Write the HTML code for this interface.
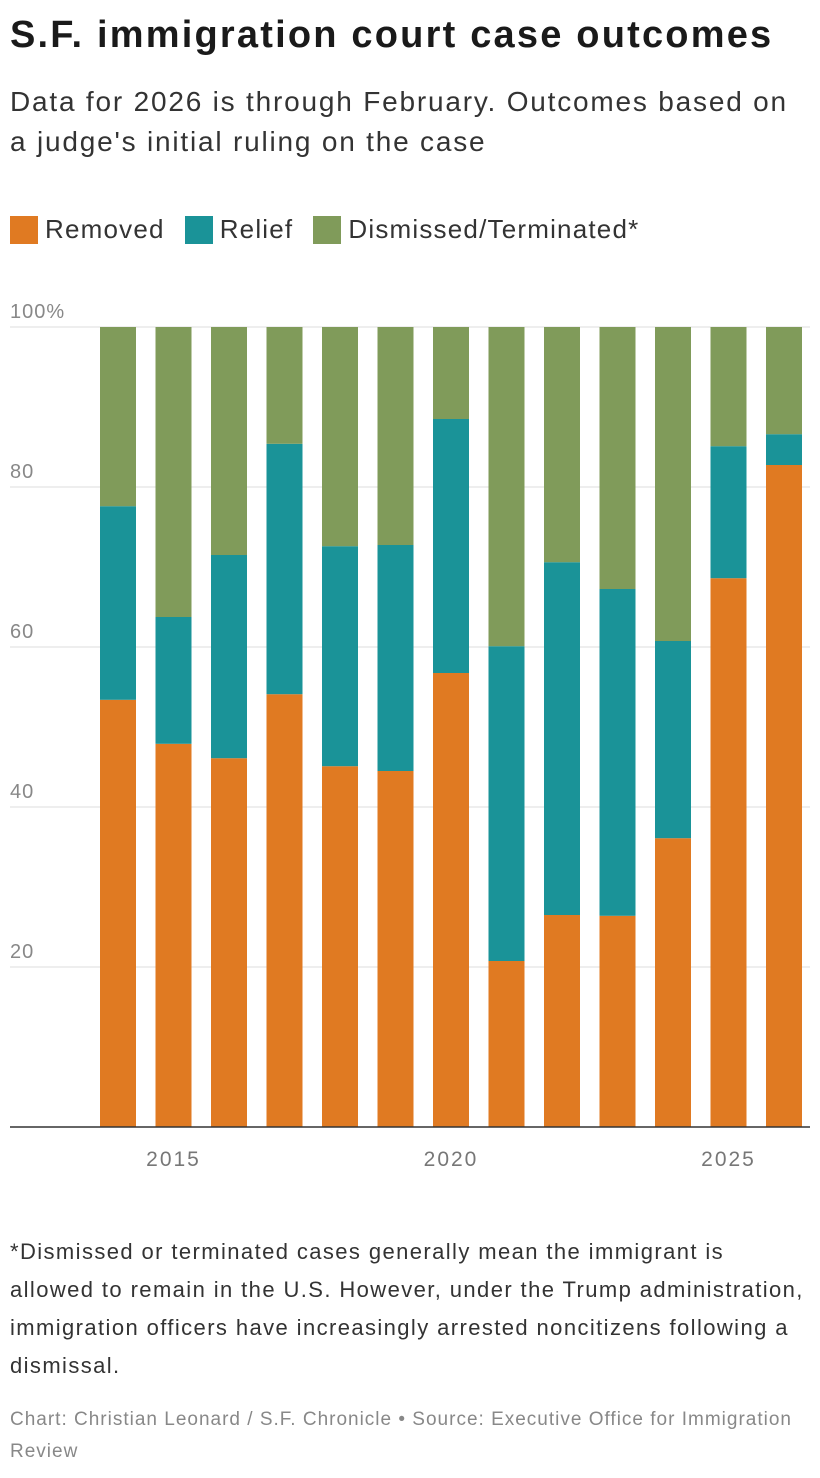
<!DOCTYPE html>
<html><head><meta charset="utf-8"><style>
body{margin:0;background:#fff;width:820px;height:1478px;overflow:hidden;font-family:"Liberation Sans",sans-serif;color:#222;position:relative}
.abs{position:absolute;white-space:nowrap}
</style></head><body>
<div class="abs" style="left:10px;top:14px;font-size:38px;font-weight:bold;color:#1a1a1a;letter-spacing:2.2px">S.F. immigration court case outcomes</div>
<div class="abs" style="left:10px;top:82px;font-size:28px;line-height:40px;color:#333;letter-spacing:1.8px">Data for 2026 is through February. Outcomes based on<br>a judge's initial ruling on the case</div>
<div class="abs" style="left:10px;top:214px;font-size:26px;color:#333;display:flex;align-items:center;letter-spacing:1.2px">
<span style="width:28px;height:28px;background:#e07a22;display:inline-block;margin-right:7px"></span><span style="margin-right:20px">Removed</span>
<span style="width:28px;height:28px;background:#1a9398;display:inline-block;margin-right:7px"></span><span style="margin-right:20px">Relief</span>
<span style="width:28px;height:28px;background:#809b5a;display:inline-block;margin-right:7px"></span><span>Dismissed/Terminated*</span>
</div>
<svg id="chart" class="abs" style="left:0;top:0" width="820" height="1200"></svg>
<div class="abs" style="left:10px;top:1233px;font-size:22px;line-height:38px;color:#333;letter-spacing:1.4px">*Dismissed or terminated cases generally mean the immigrant is<br>allowed to remain in the U.S. However, under the Trump administration,<br>immigration officers have increasingly arrested noncitizens following a<br>dismissal.</div>
<div class="abs" style="left:10px;top:1404px;font-size:19px;line-height:32px;color:#888;letter-spacing:1px">Chart: Christian Leonard / S.F. Chronicle • Source: Executive Office for Immigration<br>Review</div>
<script>
const years=[2014,2015,2016,2017,2018,2019,2020,2021,2022,2023,2024,2025,2026];
const removed=[53.4,47.9,46.1,54.1,45.1,44.5,56.75,20.75,26.5,26.4,36.1,68.6,82.75];
const relief=[24.2,15.85,25.4,31.3,27.5,28.25,31.75,39.35,44.1,40.85,24.65,16.5,3.85];
const yTicks=[100,80,60,40,20];
const yTickLabels=["100%","80","60","40","20"];
const xTickYears=[2015,2020,2025];
const svg=document.getElementById('chart');
const NS="http://www.w3.org/2000/svg";
const y0=1127,pxPer=8,x0=100,step=55.5,bw=36;
const y=v=>y0-v*pxPer;
const x=yr=>x0+(yr-years[0])*step;
function mk(t,a){const e=document.createElementNS(NS,t);for(const k in a)e.setAttribute(k,a[k]);svg.appendChild(e);return e;}
yTicks.forEach((t,i)=>{
 const l=mk('line',{x1:10,x2:810,y1:y(t),y2:y(t),stroke:'#ddd','stroke-width':1});
 
 
 const tx=mk('text',{x:10,y:y(t)-9,'font-size':20,fill:'#888','font-family':'Liberation Sans, sans-serif','letter-spacing':'1'});
 tx.textContent=yTickLabels[i];
 
 
});
years.forEach((yr,i)=>{
 const xl=x(yr);
 const segs=[[0,removed[i],'#e07a22','removed'],[removed[i],removed[i]+relief[i],'#1a9398','relief'],[removed[i]+relief[i],100,'#809b5a','dismissed']];
 segs.forEach(s=>{
  const r=mk('rect',{x:xl,y:y(s[1]),width:bw,height:(s[1]-s[0])*pxPer,fill:s[2]});
  
  
 });
});
const ax=mk('line',{x1:10,x2:810,y1:y0,y2:y0,stroke:'#333','stroke-width':1.5});


xTickYears.forEach(yr=>{
 const t=mk('text',{x:x(yr)+bw/2,y:1166,'font-size':21,fill:'#777','text-anchor':'middle','font-family':'Liberation Sans, sans-serif','letter-spacing':'2'});
 t.textContent=yr;
 
 
});
</script>
</body></html>
